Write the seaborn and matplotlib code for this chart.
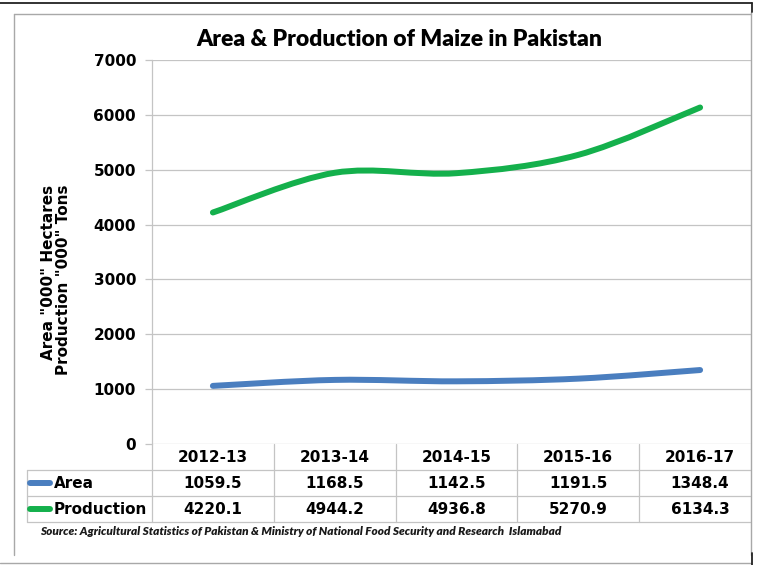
import numpy as np
import pandas as pd
import matplotlib
matplotlib.use("Agg")
import matplotlib.pyplot as plt
import seaborn as sns
from matplotlib.path import Path
from matplotlib.patches import PathPatch, Rectangle
from matplotlib.lines import Line2D
import matplotlib.transforms as mtransforms

# ---------------- data ----------------
years = ["2012-13", "2013-14", "2014-15", "2015-16", "2016-17"]
area = [1059.5, 1168.5, 1142.5, 1191.5, 1348.4]
production = [4220.1, 4944.2, 4936.8, 5270.9, 6134.3]
series_names = ["Area", "Production"]
yticks = [0, 1000, 2000, 3000, 4000, 5000, 6000, 7000]
title = "Area & Production of Maize in Pakistan"
ylabel = 'Area "000" Hectares\nProduction "000" Tons'
source = ("Source: Agricultural Statistics of Pakistan & Ministry of National "
          "Food Security and Research  Islamabad")

colors = {"Area": "#4A7EBF", "Production": "#14B04C"}

sns.set_theme(style="white")
plt.rcParams["font.family"] = ["DejaVu Sans"]

W, H = 759, 565
fig = plt.figure(figsize=(W / 100, H / 100), dpi=100)
fig.patch.set_facecolor("white")


def fx(x):
    return x / W


def fy(y):
    return 1 - y / H


# axes: left 152px, bottom 444px, top 60px, right 761px (clipped by frame at 751)
ax = fig.add_axes([fx(152), fy(444), (761 - 152) / W, (444 - 60) / H])

df = pd.DataFrame({
    "year": years * 2,
    "x": list(range(len(years))) * 2,
    "value": area + production,
    "series": [series_names[0]] * len(years) + [series_names[1]] * len(years),
})

sns.lineplot(data=df, x="x", y="value", hue="series", palette=colors,
             ax=ax, legend=False, linewidth=4.3, sort=False)

# Replace straight segments with Excel-like smoothed curves
for line, name in zip(list(ax.lines), series_names):
    xd = np.asarray(line.get_xdata(), dtype=float)
    yd = np.asarray(line.get_ydata(), dtype=float)
    pts = np.column_stack([xd, yd])
    n = len(pts)
    verts = [tuple(pts[0])]
    codes = [Path.MOVETO]
    for i in range(n - 1):
        p_prev = pts[i - 1] if i > 0 else pts[i]
        p0 = pts[i]
        p1 = pts[i + 1]
        p_next = pts[i + 2] if i + 2 < n else pts[i + 1]
        c1 = p0 + (p1 - p_prev) / 6.0
        c2 = p1 - (p_next - p0) / 6.0
        verts += [tuple(c1), tuple(c2), tuple(p1)]
        codes += [Path.CURVE4] * 3
    patch = PathPatch(Path(verts, codes), facecolor="none",
                      edgecolor=colors[name], linewidth=4.3,
                      capstyle="round", joinstyle="round", zorder=3)
    ax.add_patch(patch)
    line.set_visible(False)

grid_c = "#C4C4C4"
ax.set_xlim(-0.5, len(years) - 0.5)
ax.set_ylim(0, 7000)
ax.set_yticks(yticks)
ax.set_yticklabels([str(t) for t in yticks], fontsize=11, fontweight="bold",
                   color="black")
ax.set_xticks([])
ax.set_xlabel("")
ax.set_ylabel("")
ax.grid(False)
for t in yticks:
    ax.axhline(t, color=grid_c, linewidth=0.9, zorder=1)
for s in ["top", "right", "bottom"]:
    ax.spines[s].set_visible(False)
ax.spines["left"].set_color(grid_c)
ax.spines["left"].set_linewidth(0.9)
ax.tick_params(axis="y", which="major", left=True, length=5, width=0.9,
               color=grid_c, pad=6.5, direction="out")

# ---------------- data table under the axis ----------------
trans = mtransforms.blended_transform_factory(ax.transData, ax.transAxes)
row_h = 26 / 384
label_left = (27 - 152) / 609
tb_c = "#C4C4C4"

# vertical column borders
for k in range(len(years) + 1):
    ax.add_line(Line2D([k - 0.5, k - 0.5], [0, -3 * row_h], transform=trans,
                       color=tb_c, linewidth=0.9, clip_on=False))
# horizontal borders
for r in (1, 2, 3):
    ax.add_line(Line2D([label_left, 1.0], [-r * row_h, -r * row_h],
                       transform=ax.transAxes, color=tb_c, linewidth=0.9,
                       clip_on=False))
ax.add_line(Line2D([label_left, label_left], [-row_h, -3 * row_h],
                   transform=ax.transAxes, color=tb_c, linewidth=0.9,
                   clip_on=False))

for i, yr in enumerate(years):
    ax.text(i, -0.5 * row_h, yr, transform=trans, ha="center", va="center",
            fontsize=11, fontweight="bold", color="black", clip_on=False)
    ax.text(i, -1.5 * row_h, f"{area[i]:.1f}", transform=trans, ha="center",
            va="center", fontsize=11, fontweight="bold", color="black")
    ax.text(i, -2.5 * row_h, f"{production[i]:.1f}", transform=trans,
            ha="center", va="center", fontsize=11, fontweight="bold",
            color="black")

for r, name in enumerate(series_names):
    yc = -(r + 1.5) * row_h
    ax.add_line(Line2D([(30 - 152) / 609, (50 - 152) / 609], [yc, yc],
                       transform=ax.transAxes, color=colors[name],
                       linewidth=4.3, solid_capstyle="round", clip_on=False))
    ax.text((54 - 152) / 609, yc, name, transform=ax.transAxes, ha="left",
            va="center", fontsize=11, fontweight="bold", color="black")

# ---------------- texts ----------------
fig.text(fx(399), fy(46), title, ha="center", va="baseline",
         fontsize=16.5, fontweight="heavy", family=["Lato", "DejaVu Sans"],
         color="black")
fig.text(fx(56), fy(280), ylabel, rotation=90, ha="center", va="center",
         multialignment="right", fontsize=11, fontweight="bold",
         linespacing=1.0, color="black")
fig.text(fx(40), fy(535), source, ha="left", va="baseline", fontsize=8.5,
         fontweight="heavy", style="italic", family=["Lato", "DejaVu Sans"],
         color="#1a1a1a")

# ---------------- outer frame ----------------
fig.patches.append(Rectangle((fx(751.5), 0), 1 - fx(751.5), 1,
                             transform=fig.transFigure, facecolor="white",
                             edgecolor="none", zorder=5))
frame_c = "#A8A8A8"
fig.lines.extend([
    Line2D([fx(14), fx(751)], [fy(14), fy(14)], transform=fig.transFigure,
           color=frame_c, linewidth=1.0, zorder=6),
    Line2D([fx(14), fx(14)], [fy(14), fy(555)], transform=fig.transFigure,
           color=frame_c, linewidth=1.0, zorder=6),
    Line2D([fx(751), fx(751)], [fy(12), fy(555)], transform=fig.transFigure,
           color=frame_c, linewidth=1.0, zorder=6),
    Line2D([0, fx(751)], [fy(563), fy(563)], transform=fig.transFigure,
           color=frame_c, linewidth=1.0, zorder=6),
    Line2D([0, fx(752)], [fy(3), fy(3)], transform=fig.transFigure,
           color="#222222", linewidth=1.3, zorder=6),
    Line2D([fx(752), fx(752)], [fy(3), fy(12)], transform=fig.transFigure,
           color="#222222", linewidth=1.3, zorder=6),
    Line2D([fx(752), fx(752)], [fy(553), fy(565)], transform=fig.transFigure,
           color="#222222", linewidth=1.3, zorder=6),
])

fig.savefig("out.png", dpi=100, facecolor="white")
